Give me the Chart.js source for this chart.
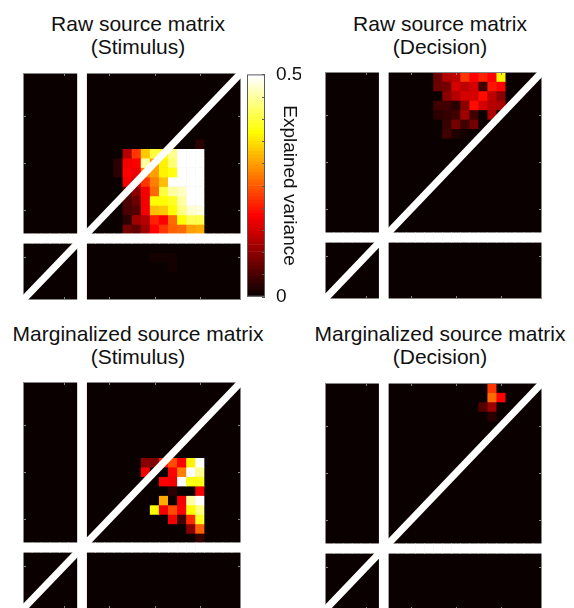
<!DOCTYPE html>
<html>
<head>
<meta charset="utf-8">
<script src="https://cdn.jsdelivr.net/npm/chart.js@4.4.1/dist/chart.umd.min.js"></script>
<style>
  html, body { margin: 0; padding: 0; background: #fff; }
  body { position: relative; width: 574px; height: 608px; overflow: hidden;
         font-family: "Liberation Sans", Arial, sans-serif; }
  canvas { position: absolute; }
  .ttl { position: absolute; width: 320px; text-align: center; font-size: 21px;
         line-height: 21px; color: #111; white-space: nowrap; }
</style>
</head>
<body>
<div class="ttl" style="left:-22px; top:13px;">Raw source matrix</div>
<div class="ttl" style="left:-22px; top:36px;">(Stimulus)</div>
<div class="ttl" style="left:280px; top:13px;">Raw source matrix</div>
<div class="ttl" style="left:280px; top:36px;">(Decision)</div>
<div class="ttl" style="left:-22px; top:323px;">Marginalized source matrix</div>
<div class="ttl" style="left:-22px; top:346px;">(Stimulus)</div>
<div class="ttl" style="left:280px; top:323px;">Marginalized source matrix</div>
<div class="ttl" style="left:280px; top:346px;">(Decision)</div>

<canvas id="rawStim"></canvas>
<canvas id="rawDec"></canvas>
<canvas id="margStim"></canvas>
<canvas id="margDec"></canvas>
<canvas id="cbar"></canvas>

<script>
// Time bins on both axes (bin 1 = bottom / left)
const N_BINS = 24;
const BINS = Array.from({ length: N_BINS }, (_, i) => i + 1);
const TICKS = [5, 10, 15, 20];
const EPOCH_BREAK = 7;          // bin separating the two trial epochs
const CLIM = [0, 0.5];          // colour limits (explained variance)
const CBAR_LABELS = [0, 0.5];
const CBAR_STEP = 0.05;

// Sparse matrices: [row bin, first column bin, values along the row]; all other cells are 0
const RAW_STIM = [
  [17, 20, [0.03]],
  [16, 12, [0.125, 0.225, 0.33, 0.40, 0.38, 0.44, 0.5, 0.5, 0.5]],
  [15, 11, [0.03, 0.175, 0.185, 0.45, 0.30, 0.36, 0.425, 0.5, 0.5, 0.5]],
  [14, 11, [0.03, 0.18, 0.165, 0.275, 0.30, 0.36, 0.38, 0.5, 0.5, 0.5]],
  [13, 12, [0.175, 0.15, 0.225, 0.275, 0.325, 0.5, 0.5, 0.5, 0.5]],
  [12, 12, [0.06, 0.10, 0.175, 0.265, 0.40, 0.45, 0.465, 0.5, 0.5]],
  [11, 12, [0.05, 0.075, 0.175, 0.37, 0.37, 0.39, 0.45, 0.5, 0.5]],
  [10, 12, [0.05, 0.06, 0.175, 0.325, 0.33, 0.37, 0.435, 0.475, 0.48]],
  [9, 12, [0.025, 0.11, 0.125, 0.21, 0.18, 0.265, 0.37, 0.41, 0.41]],
  [8, 12, [0.085, 0.065, 0.11, 0.18, 0.22, 0.25, 0.265, 0.30, 0.31]],
  [5, 15, [0.015, 0.015, 0.015]],
  [4, 17, [0.015]]
];

const RAW_DEC = [
  [24, 13, [0.075, 0.125, 0.135, 0.225, 0.18, 0.21, 0.18, 0.36]],
  [23, 13, [0.075, 0.085, 0.15, 0.14, 0.15, 0.045, 0.20, 0.18]],
  [22, 14, [0.10, 0.125, 0.15, 0.15, 0.19, 0.135, 0.10]],
  [21, 13, [0.04, 0.04, 0.025, 0.10, 0.19, 0.15, 0.125, 0.12]],
  [20, 13, [0.025, 0.035, 0.045, 0.11, 0.04, 0, 0.12]],
  [19, 14, [0.035, 0.08, 0.045, 0.08]],
  [18, 14, [0.045, 0.02, 0.015]]
];

const MARG_STIM = [
  [16, 14, [0.10, 0.09, 0.20, 0.235, 0.18, 0.365, 0.5]],
  [15, 14, [0.175, 0, 0, 0.18, 0.28, 0.5, 0.44]],
  [14, 16, [0.185, 0.175, 0.5, 0.38, 0.38]],
  [13, 17, [0.025, 0, 0, 0.175]],
  [12, 16, [0.31, 0, 0.175, 0.45, 0.5]],
  [11, 15, [0.37, 0.175, 0.24, 0.185, 0.37, 0.435]],
  [10, 17, [0.175, 0.045, 0.215, 0.39]],
  [9, 19, [0.10, 0.25]],
  [8, 20, [0.035]]
];

const MARG_DEC = [
  [24, 19, [0.22]],
  [23, 19, [0.265, 0.18]],
  [22, 18, [0.06, 0.11]],
  [21, 19, [0.03]]
];

// MATLAB-style "hot" colormap with 64 levels
const CMAP_LEVELS = 64;
function hot(v) {
  const m = CMAP_LEVELS, n = Math.floor(3 * m / 8);
  let i = Math.floor((v - CLIM[0]) / (CLIM[1] - CLIM[0]) * m) + 1;
  i = Math.max(1, Math.min(m, i));
  const r = i <= n ? i / n : 1;
  const g = i <= n ? 0 : (i <= 2 * n ? (i - n) / n : 1);
  const b = i <= 2 * n ? 0 : (i - 2 * n) / (m - 2 * n);
  return `rgb(${Math.round(r * 255)},${Math.round(g * 255)},${Math.round(b * 255)})`;
}

function toGrid(sparse) {
  const grid = BINS.map(() => BINS.map(() => 0));
  for (const [row, col0, vals] of sparse) {
    vals.forEach((v, k) => { grid[row - 1][col0 - 1 + k] = v; });
  }
  return grid;
}

const FONT = { family: '"Liberation Sans", Arial, sans-serif', size: 19 };
const PAD = 8;

// Dark backing under the cells, then axes box and inward ticks right after the cells
const frame = {
  id: 'frame',
  beforeDatasetsDraw(chart) {
    const { ctx, chartArea: a } = chart;
    ctx.save();
    ctx.fillStyle = hot(CLIM[0]);
    ctx.fillRect(a.left, a.top, a.width, a.height);
    ctx.restore();
  },
  afterDatasetDraw(chart, args) {
    if (args.index !== 3) return;
    const { ctx, chartArea: a, scales: { x, y } } = chart;
    ctx.save();
    ctx.strokeStyle = '#858585';
    ctx.lineWidth = 1;
    ctx.strokeRect(a.left + 0.5, a.top + 0.5, a.width - 1, a.height - 1);
    ctx.beginPath();
    const L = 3;
    for (const t of TICKS) {
      const px = Math.round(x.getPixelForValue(t)) + 0.5;
      ctx.moveTo(px, a.top); ctx.lineTo(px, a.top + L);
      ctx.moveTo(px, a.bottom); ctx.lineTo(px, a.bottom - L);
      const py = Math.round(y.getPixelForValue(t)) + 0.5;
      ctx.moveTo(a.left, py); ctx.lineTo(a.left + L, py);
      ctx.moveTo(a.right, py); ctx.lineTo(a.right - L, py);
    }
    ctx.stroke();
    ctx.restore();
  }
};

function matrixPanel(id, sparse, box) {
  const cv = document.getElementById(id);
  const W = box.w + 2 * PAD, H = box.h + 2 * PAD;
  cv.width = W; cv.height = H;
  Object.assign(cv.style, { left: (box.left - PAD) + 'px', top: (box.top - PAD) + 'px',
                            width: W + 'px', height: H + 'px' });
  const grid = toGrid(sparse);
  const cells = [], colors = [];
  BINS.forEach(r => BINS.forEach(c => {
    cells.push({ x: c, y: [r - 0.5, r + 0.5] });
    colors.push(hot(grid[r - 1][c - 1]));
  }));
  const lo = 0.5, hi = N_BINS + 0.5;
  const barCommon = { grouped: false, barPercentage: 1, categoryPercentage: 1, borderWidth: 0 };
  return new Chart(cv, {
    type: 'bar',
    data: {
      datasets: [
        { type: 'line', data: [{ x: lo, y: lo }, { x: hi, y: hi }], borderColor: '#ffffff',
          borderWidth: 7, pointRadius: 0, borderCapStyle: 'butt', clip: false },
        Object.assign({ data: [{ x: EPOCH_BREAK, y: [lo, hi] }], backgroundColor: '#ffffff' }, barCommon),
        Object.assign({ data: BINS.map(c => ({ x: c, y: [EPOCH_BREAK - 0.5, EPOCH_BREAK + 0.5] })),
                        backgroundColor: '#ffffff' }, barCommon),
        Object.assign({ data: cells, backgroundColor: colors }, barCommon)
      ]
    },
    options: {
      responsive: false, animation: false, devicePixelRatio: 1,
      layout: { padding: PAD },
      plugins: { legend: { display: false }, tooltip: { enabled: false } },
      events: [],
      scales: {
        x: { type: 'linear', min: lo, max: hi, offset: false, display: false,
             ticks: { stepSize: 5, includeBounds: false },
             afterBuildTicks: s => { s.ticks = TICKS.map(v => ({ value: v })); } },
        y: { type: 'linear', min: lo, max: hi, display: false,
             ticks: { stepSize: 5, includeBounds: false },
             afterBuildTicks: s => { s.ticks = TICKS.map(v => ({ value: v })); } }
      }
    },
    plugins: [frame]
  });
}

matrixPanel('rawStim', RAW_STIM, { left: 23, top: 73, w: 218, h: 227 });
matrixPanel('rawDec', RAW_DEC, { left: 325, top: 72, w: 217, h: 227 });
matrixPanel('margStim', MARG_STIM, { left: 23, top: 382, w: 218, h: 227 });
matrixPanel('margDec', MARG_DEC, { left: 325, top: 383, w: 217, h: 227 });

// Colour bar: one floating bar per colormap level
(function () {
  const cv = document.getElementById('cbar');
  const W = 65, H = 251;
  cv.width = W; cv.height = H;
  Object.assign(cv.style, { left: '240px', top: '60px', width: W + 'px', height: H + 'px' });
  const span = CLIM[1] - CLIM[0];
  const levels = Array.from({ length: CMAP_LEVELS }, (_, k) => k);
  const cbFrame = {
    id: 'cbFrame',
    afterDatasetsDraw(chart) {
      const { ctx, chartArea: a, scales: { y } } = chart;
      ctx.save();
      ctx.strokeStyle = '#5a5a5a';
      ctx.lineWidth = 1;
      ctx.strokeRect(a.left + 0.5, a.top + 0.5, a.width - 1, a.height - 1);
      ctx.beginPath();
      for (let v = CLIM[0]; v <= CLIM[1] + 1e-9; v += CBAR_STEP) {
        const py = Math.round(y.getPixelForValue(v)) + 0.5;
        ctx.moveTo(a.right, py); ctx.lineTo(a.right - 3, py);
      }
      ctx.stroke();
      ctx.restore();
    }
  };
  new Chart(cv, {
    type: 'bar',
    data: {
      labels: ['cb'],
      datasets: [{
        data: levels.map(k => ({ x: 'cb', y: [CLIM[0] + k * span / CMAP_LEVELS, CLIM[0] + (k + 1) * span / CMAP_LEVELS] })),
        backgroundColor: levels.map(k => hot(CLIM[0] + (k + 0.5) * span / CMAP_LEVELS)),
        barPercentage: 1, categoryPercentage: 1, borderWidth: 0
      }]
    },
    options: {
      responsive: false, animation: false, devicePixelRatio: 1,
      layout: { padding: { left: 7, top: 14, right: 4, bottom: 10 } },
      plugins: { legend: { display: false }, tooltip: { enabled: false } },
      events: [],
      scales: {
        x: { display: false },
        y: {
          position: 'right', min: CLIM[0], max: CLIM[1],
          grid: { display: false }, border: { display: false },
          ticks: {
            stepSize: CBAR_STEP, autoSkip: false, padding: 3, color: '#111', font: FONT,
            callback: v => {
              const hit = CBAR_LABELS.find(t => Math.abs(t - v) < 1e-9);
              return hit === undefined ? '' : String(hit);
            }
          },
          title: { display: true, text: 'Explained variance', color: '#111', font: FONT, padding: 0 },
          afterFit: s => { s.width = 36; }
        }
      }
    },
    plugins: [cbFrame]
  });
})();
</script>
</body>
</html>
